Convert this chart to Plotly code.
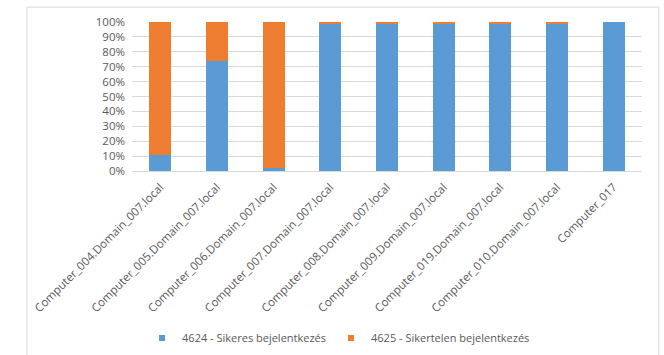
import plotly.graph_objects as go

categories = [
    "Computer_004.Domain_007.local",
    "Computer_005.Domain_007.local",
    "Computer_006.Domain_007.local",
    "Computer_007.Domain_007.local",
    "Computer_008.Domain_007.local",
    "Computer_009.Domain_007.local",
    "Computer_019.Domain_007.local",
    "Computer_010.Domain_007.local",
    "Computer_017",
]
success = [11, 74, 2, 99, 99, 99, 99, 99, 100]
failed = [89, 26, 98, 1, 1, 1, 1, 1, 0]
series_names = ["4624 - Sikeres bejelentkezés", "4625 - Sikertelen bejelentkezés"]
series_colors = ["#5b9bd5", "#ed7d31"]
y_ticks = [0, 10, 20, 30, 40, 50, 60, 70, 80, 90, 100]
y_ticktext = [f"{v}%" for v in y_ticks]

fig = go.Figure()
for vals, name, col in zip([success, failed], series_names, series_colors):
    fig.add_trace(go.Bar(x=categories, y=vals, name=name, showlegend=False,
                         marker=dict(color=col, line=dict(width=0))))
# legend-only entries with small square markers (Excel style)
for name, col in zip(series_names, series_colors):
    fig.add_trace(go.Scatter(x=[None], y=[None], mode="markers", name=name,
                             marker=dict(symbol="square", size=6, color=col)))

fig.update_layout(
    barmode="stack",
    bargap=0.61,
    width=664, height=355,
    margin=dict(l=132, r=22, t=22, b=184, autoexpand=False),
    paper_bgcolor="white", plot_bgcolor="white",
    font=dict(family="Open Sans", size=11, color="#595959"),
    showlegend=True,
    legend=dict(orientation="h", x=0.405, xanchor="center", y=-1.12, yanchor="middle",
                font=dict(size=11), traceorder="normal", itemwidth=30),
    xaxis=dict(tickangle=-45, showgrid=False, showline=True, linecolor="#d9d9d9",
               ticks="", tickfont=dict(size=11.5), automargin=False,
               ticklabelstandoff=4),
    yaxis=dict(range=[0, 100], tickvals=y_ticks, ticktext=y_ticktext, showgrid=True,
               gridcolor="#d9d9d9", showline=False, zeroline=False, ticks="",
               tickfont=dict(size=11.5), automargin=False, ticklabelstandoff=6),
    shapes=[dict(type="rect", xref="paper", yref="paper",
                 x0=-0.206, x1=1.033, y0=-1.4, y1=1.10,
                 line=dict(color="#d9d9d9", width=1), layer="below")],
)

fig.write_html("out.html")
